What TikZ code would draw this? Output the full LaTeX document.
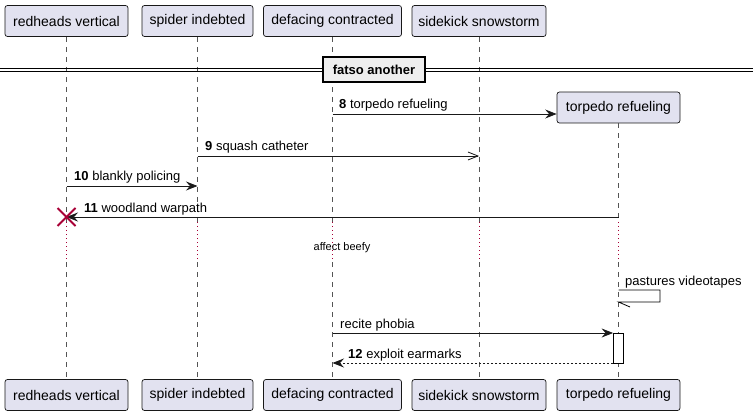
\documentclass[tikz,border=0pt]{standalone}
\usepackage{fontspec}
\setmainfont{Liberation Sans}
\usetikzlibrary{arrows.meta,calc}
\definecolor{partfill}{HTML}{E2E2F0}
\definecolor{partdraw}{HTML}{181818}
\definecolor{lifec}{HTML}{555555}
\definecolor{delayc}{HTML}{A80036}
\definecolor{divfill}{HTML}{EEEEEE}
\tikzset{
  part/.style={draw=partdraw, fill=partfill, rounded corners=2.5pt, line width=0.7pt,
    minimum height=31pt, inner sep=0pt, font=\fontsize{14}{16}\selectfont},
  lifeline/.style={draw=lifec, line width=0.6pt, dash pattern=on 5pt off 5pt},
  delayline/.style={draw=delayc, line width=0.8pt, dash pattern=on 1pt off 3pt},
  msg/.style={draw=black!90, line width=0.8pt, -{Stealth[length=11.5pt,width=9pt,inset=4pt]}},
  openmsg/.style={draw=black!90, line width=0.8pt, -{Straight Barb[length=10pt,width=8pt]}},
  retmsg/.style={draw=black!90, line width=0.8pt, dash pattern=on 2pt off 2pt, -{Stealth[length=11.5pt,width=9pt,inset=4pt]}},
  lbl/.style={anchor=base west, inner sep=0pt, font=\fontsize{13}{15}\selectfont},
  divbox/.style={draw=black, fill=divfill, line width=1.6pt, inner sep=0pt,
    minimum width=102pt, minimum height=25pt, font=\fontsize{13}{15}\selectfont\bfseries},
  actbox/.style={draw=black, fill=white, line width=0.8pt, minimum width=10pt, minimum height=30pt, inner sep=0pt},
  delaytxt/.style={inner sep=0pt, font=\fontsize{11}{13}\selectfont},
  destroyx/.style={draw=delayc, line width=1.8pt}
}
\begin{document}
\begin{tikzpicture}[x=1pt,y=-1pt]
\useasboundingbox (0,0) rectangle (753,417);
% participants top
\node[part, minimum width=123pt] (aT) at (66.5,21) {redheads vertical};
\node[part, minimum width=111pt] (bT) at (197.5,21) {spider indebted};
\node[part, minimum width=138pt] (cT) at (332.5,21) {defacing contracted};
\node[part, minimum width=134pt] (dT) at (479,21) {sidekick snowstorm};
\node[part, minimum width=123pt] (eT) at (618.5,107.5) {torpedo refueling};
% participants bottom
\node[part, minimum width=123pt] (aB) at (66.5,395) {redheads vertical};
\node[part, minimum width=111pt] (bB) at (197.5,395) {spider indebted};
\node[part, minimum width=138pt] (cB) at (332.5,395) {defacing contracted};
\node[part, minimum width=134pt] (dB) at (479,395) {sidekick snowstorm};
\node[part, minimum width=123pt] (eB) at (618.5,395) {torpedo refueling};
% lifeline break coordinates
\foreach \n/\x in {a/66.5,b/197.5,c/332.5,d/479,e/618.5}{
  \coordinate (\n1) at (\x,222);
  \coordinate (\n2) at (\x,262);
}
\foreach \n in {a,b,c,d,e}{
  \draw[lifeline] (\n T.south) -- (\n1);
  \draw[delayline] (\n1) -- (\n2);
  \draw[lifeline] (\n2) -- (\n B.north);
}
% divider
\coordinate (divL1) at (0,68);
\coordinate (divR1) at (753,68);
\coordinate (divL2) at (0,71.5);
\coordinate (divR2) at (753,71.5);
\draw[line width=0.9pt] (divL1) -- (divR1);
\draw[line width=0.9pt] (divL2) -- (divR2);
\node[divbox] (div) at (374,69.5) {fatso another};
% message coordinates on lifelines
\coordinate (m8s) at (332.5,114);
\coordinate (m8e) at (eT.west |- m8s);
\coordinate (m9s) at (197.5,156);
\coordinate (m9e) at (479,156);
\coordinate (m10s) at (66.5,186);
\coordinate (m10e) at (197.5,186);
\coordinate (m11s) at (618.5,217);
\coordinate (m11e) at (66.5,217);
% messages
\draw[msg] (m8s) -- (m8e);
\node[lbl] (l8) at (339,109) {\textbf{8} torpedo refueling};
\draw[openmsg] (m9s) -- (m9e);
\node[lbl] (l9) at (205,151) {\textbf{9} squash catheter};
\draw[msg] (m10s) -- (m10e);
\node[lbl] (l10) at (74,181) {\textbf{10} blankly policing};
\draw[msg] (m11s) -- (m11e);
\node[lbl] (l11) at (84,212) {\textbf{11} woodland warpath};
\draw[destroyx] ($(m11e)+(-9,-9)$) -- ($(m11e)+(9,9)$);
\draw[destroyx] ($(m11e)+(-9,9)$) -- ($(m11e)+(9,-9)$);
% delay text
\node[delaytxt] (delay) at (342,247.5) {affect beefy};
% self message
\coordinate (s1) at (618.5,290);
\coordinate (s2) at (660,290);
\coordinate (s3) at (660,302);
\coordinate (s4) at (618.5,302);
\coordinate (s5) at (630,307);
\draw[line width=0.8pt] (s1) -- (s2) -- (s3) -- (s4) -- (s5);
\node[lbl] (lself) at (625,285) {pastures videotapes};
% activation
\node[actbox] (act) at (618.5,348) {};
\coordinate (m13s) at (332.5,333);
\coordinate (m12e) at (332.5,363);
\draw[msg] (m13s) -- (act.west |- m13s);
\node[lbl] (l13) at (340,328) {recite phobia};
\draw[retmsg] (act.west |- m12e) -- (m12e);
\node[lbl] (l12) at (348,358) {\textbf{12} exploit earmarks};
\end{tikzpicture}
\end{document}
